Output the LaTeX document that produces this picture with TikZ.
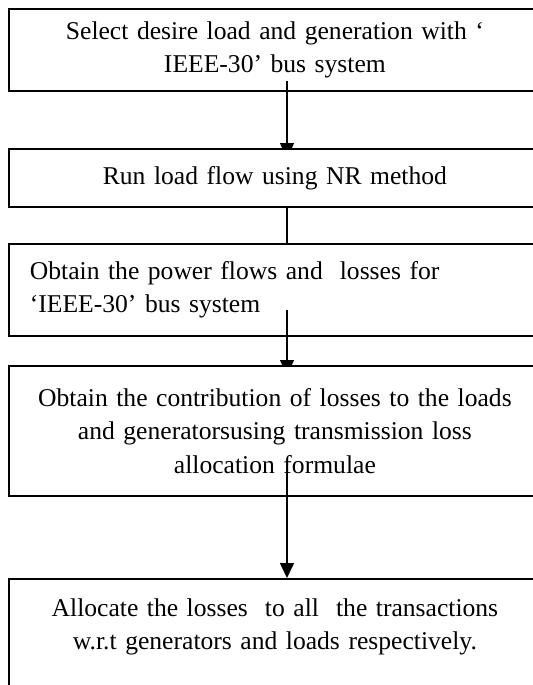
\documentclass[tikz,border=0pt]{standalone}
\usepackage{fontspec}
\setmainfont{Liberation Serif}
\usetikzlibrary{arrows.meta,backgrounds}
\tikzset{
  box/.style={draw,line width=.9pt,anchor=north west,minimum width=266pt,text width=250pt,inner xsep=8pt,align=center,font=\fontsize{12.8}{16.8}\selectfont},
  cover/.style={fill=white},
  flow/.style={line width=.8pt,-{Triangle[length=7.5pt,width=7pt]}},
}
\begin{document}
\begin{tikzpicture}[x=.5pt,y=-.5pt]
\useasboundingbox (0,0) rectangle (533,685);
\clip (0,0) rectangle (533,685);
\node[box,minimum height=41pt] (select) at (8,8) {Select desire load and generation with ‘\\IEEE-30’ bus system};
\node[box,cover,minimum height=29pt] (run) at (8,148) {Run load flow using NR method};
\node[box,minimum height=46pt,align=left,inner xsep=10.5pt,text width=245pt] (flows) at (8,243) {Obtain the power flows and\ \ losses for\\‘IEEE-30’ bus system};
\node[box,cover,minimum height=65pt] (contrib) at (8,365) {Obtain the contribution of losses to the loads\\and generatorsusing transmission loss\\allocation formulae};
\node[box,cover,minimum height=62pt] (alloc) at (8,578) {Allocate the losses\ \ to all\ \ the transactions\\w.r.t generators and loads respectively.\\\mbox{}};
\coordinate (s1) at (287,81);
\coordinate (s3) at (287,310);
\coordinate (s4) at (287,473);
\begin{scope}[on background layer]
\draw[flow,shorten >=-5pt] (s1) -- (s1 |- run.north);
\draw[flow,shorten >=-5pt] (s3) -- (s3 |- contrib.north);
\end{scope}
\draw[line width=.8pt] (s1 |- run.south) -- (s1 |- flows.north);
\draw[flow] (s4) -- (s4 |- alloc.north);
\end{tikzpicture}
\end{document}
